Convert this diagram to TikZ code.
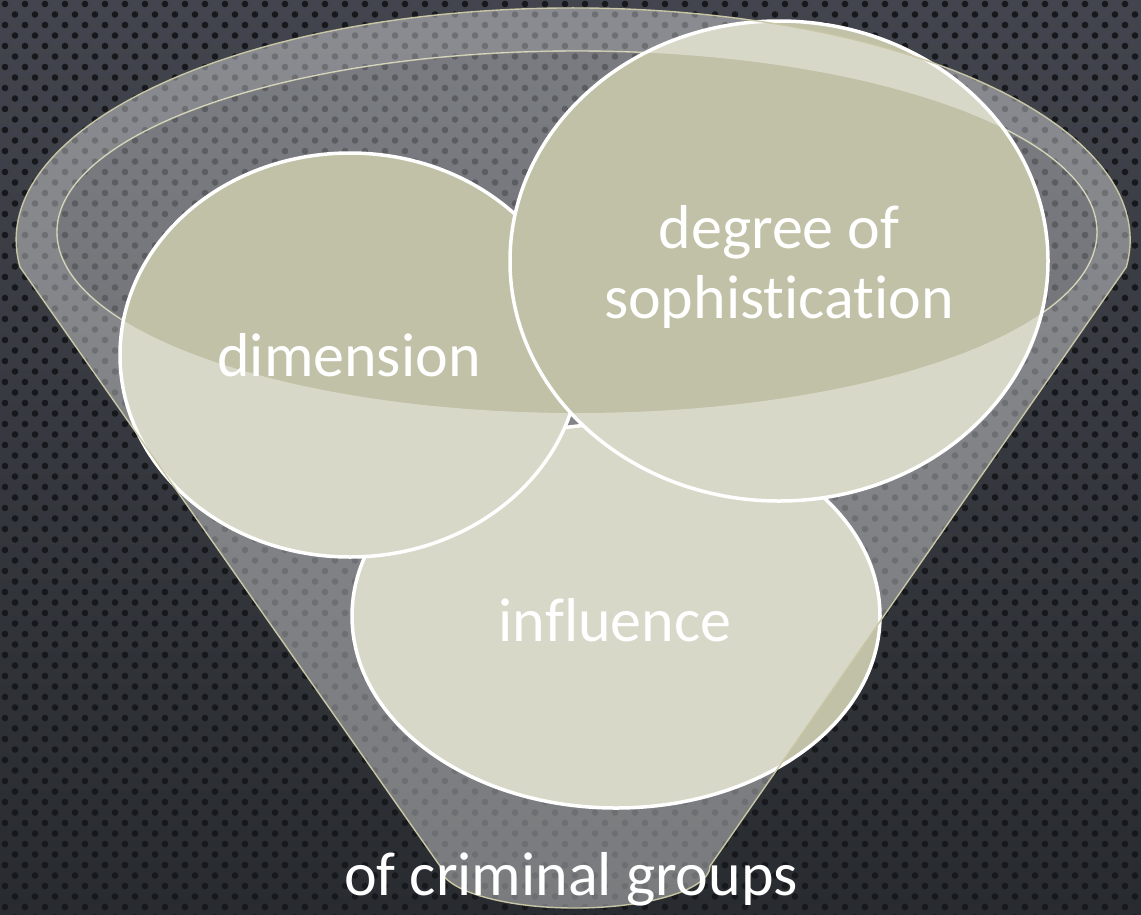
\documentclass[tikz,border=0pt]{standalone}
\usepackage{fontspec}
\setmainfont{Carlito}[RawFeature={-liga;-clig;-dlig}]
\usetikzlibrary{positioning, shapes.geometric, calc}
\definecolor{bgtop}{RGB}{66,69,77}
\definecolor{bgbottom}{RGB}{40,43,47}
\definecolor{dotcolor}{RGB}{22,24,28}
\definecolor{bubblefill}{RGB}{193,193,167}
\definecolor{rimcolor}{RGB}{200,198,165}

\begin{document}
\begin{tikzpicture}[x=1pt, y=-1pt,
    bubble/.style={ellipse, draw=white, line width=3.5pt, fill=bubblefill, inner sep=0pt},
    label text/.style={text=white, anchor=base, font=\fontsize{62}{70}\selectfont},
    rim/.style={draw=rimcolor, line width=1.4pt}]

    % === FOND ===
    \useasboundingbox (0,0) rectangle (1141,914);
    \shade[top color=bgtop, bottom color=bgbottom] (0,0) rectangle (1141,914);
    \foreach \row in {0,...,87} {
        \pgfmathsetmacro{\rowoff}{mod(\row,2)*10}
        \foreach \col in {0,...,57}
            \fill[dotcolor] (\col*20+\rowoff+5, \row*10.5+4) circle[radius=3.3];
    }

    % === ENTONNOIR (ouverture, arriere) ===
    \coordinate (rimL) at (20,267);
    \coordinate (neckR) at (710,866);
    \fill[white, opacity=0.3] (577,232) ellipse[x radius=520, y radius=181];
    \draw[rim] (577,232) ellipse[x radius=520, y radius=181];

    % === BULLES ===
    \node[bubble, minimum width=528pt, minimum height=384pt] (influence) at (616,616) {};
    \node[bubble, minimum width=460pt, minimum height=404pt] (dimension) at (350,355) {};
    \node[bubble, minimum width=538pt, minimum height=480pt] (sophistication) at (779,261) {};

    % === ENTONNOIR (avant) ===
    \fill[white, opacity=0.38, even odd rule] (rimL)
        arc[start angle=173.3, end angle=366.7, x radius=557, y radius=232] -- (neckR)
        arc[start angle=0, end angle=180, x radius=135, y radius=42] -- cycle
        (577,232) ellipse[x radius=520, y radius=181];
    \draw[rim] (rimL)
        arc[start angle=173.3, end angle=366.7, x radius=557, y radius=232] -- (neckR)
        arc[start angle=0, end angle=180, x radius=135, y radius=42] -- cycle;

    % Textes
    \node[label text] (dimensiontext) at (349,376) {dimension};
    \node[label text] (degreetext) at (779,248) {degree of};
    \node[label text] (sophisticationtext) at (779,318) {sophist\kern0pt ication};
    \node[label text] (influencetext) at (615,641) {inf\kern0pt luence};
    \node[label text] (groups) at (571,895) {of criminal groups};

\end{tikzpicture}
\end{document}
